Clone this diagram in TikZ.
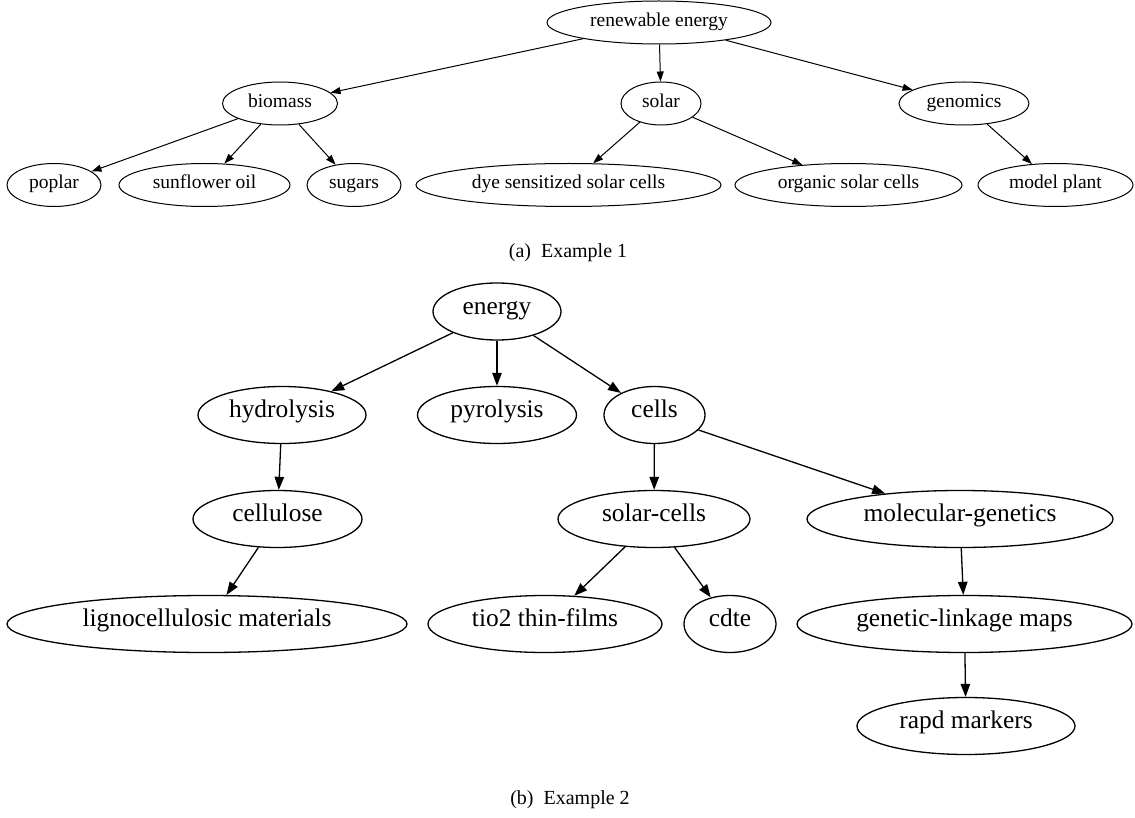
\documentclass[tikz,border=0pt]{standalone}
\usepackage{fontspec}
\setmainfont{Liberation Serif}
\usetikzlibrary{shapes.geometric,arrows.meta}

\tikzset{
  nodeA/.style={ellipse, draw, line width=1pt, inner sep=0pt, minimum height=43pt,
    text height=0.9em, text depth=0.14em,
    font=\fontsize{19.5}{20}\selectfont},
  nodeB/.style={ellipse, draw, line width=1.3pt, inner sep=0pt, minimum height=57pt,
    text height=0.72em, text depth=0.22em,
    font=\fontsize{25.4}{26}\selectfont},
  edgeA/.style={line width=1pt, -{Triangle[length=10pt,width=7pt]}},
  edgeB/.style={line width=1.3pt, -{Triangle[length=13pt,width=9.5pt]}},
  captext/.style={inner sep=0pt, font=\fontsize{20}{22}\selectfont}
}

\begin{document}
\begin{tikzpicture}[x=1pt,y=-1pt]
\useasboundingbox (0,0) rectangle (1135,818);

% ---- Example 1 ----
\node[nodeA, minimum width=224pt] (ren) at (659,22.5) {renewable energy};
\node[nodeA, minimum width=115pt] (bio) at (280,103.5) {biomass};
\node[nodeA, minimum width=80pt]  (sol) at (661,103.5) {solar};
\node[nodeA, minimum width=130pt] (gen) at (964,103.5) {genomics};
\node[nodeA, minimum width=94pt]  (pop) at (54,185) {poplar};
\node[nodeA, minimum width=171pt] (sun) at (204.5,185) {sunflower oil};
\node[nodeA, minimum width=94pt]  (sug) at (354,185) {sugars};
\node[nodeA, minimum width=305pt] (dye) at (568.5,185) {dye sensitized solar cells};
\node[nodeA, minimum width=227pt] (org) at (848.5,185) {organic solar cells};
\node[nodeA, minimum width=155pt] (mod) at (1055.5,185) {model plant};

\draw[edgeA] (ren) -- (bio);
\draw[edgeA] (ren) -- (sol);
\draw[edgeA] (ren) -- (gen);
\draw[edgeA] (bio) -- (pop);
\draw[edgeA] (bio) -- (sun);
\draw[edgeA] (bio) -- (sug);
\draw[edgeA] (sol) -- (dye);
\draw[edgeA] (sol) -- (org);
\draw[edgeA] (gen) -- (mod);

\node[captext] (capa) at (568,253) {(a)\hspace{0.5em}Example 1};

% ---- Example 2 ----
\node[nodeB, minimum width=128pt] (ene) at (497,311.5) {energy};
\node[nodeB, minimum width=168pt] (hyd) at (282,415) {hydrolysis};
\node[nodeB, minimum width=159pt] (pyr) at (497,415) {pyrolysis};
\node[nodeB, minimum width=101pt] (cel) at (654.5,415) {cells};
\node[nodeB, minimum width=169pt] (clu) at (277.5,519) {cellulose};
\node[nodeB, minimum width=192pt] (soc) at (654,519) {solar-cells};
\node[nodeB, minimum width=306pt] (mol) at (960,519) {molecular-genetics};
\node[nodeB, minimum width=400pt] (lig) at (207,624) {lignocellulosic materials};
\node[nodeB, minimum width=234pt] (tio) at (545,624) {tio2 thin-films};
\node[nodeB, minimum width=92pt]  (cdt) at (730,624) {cdte};
\node[nodeB, minimum width=335pt] (glm) at (964.5,624) {genetic-linkage maps};
\node[nodeB, minimum width=218pt] (rap) at (966,726) {rapd markers};

\draw[edgeB] (ene) -- (hyd);
\draw[edgeB] (ene) -- (pyr);
\draw[edgeB] (ene) -- (cel);
\draw[edgeB] (hyd) -- (clu);
\draw[edgeB] (clu) -- (lig);
\draw[edgeB] (cel) -- (soc);
\draw[edgeB] (cel) -- (mol);
\draw[edgeB] (soc) -- (tio);
\draw[edgeB] (soc) -- (cdt);
\draw[edgeB] (mol) -- (glm);
\draw[edgeB] (glm) -- (rap);

\node[captext] (capb) at (570,800) {(b)\hspace{0.5em}Example 2};
\end{tikzpicture}
\end{document}
